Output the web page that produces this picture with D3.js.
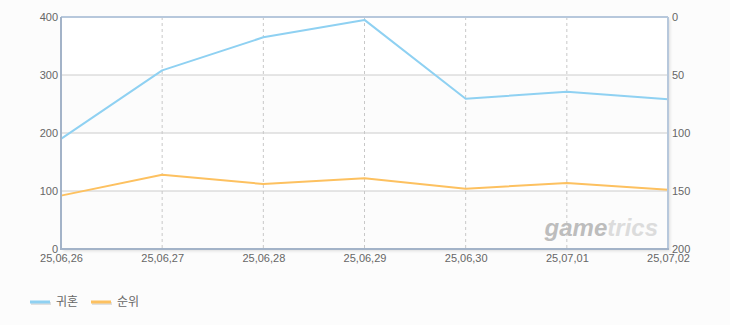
<!DOCTYPE html>
<html>
<head>
<meta charset="utf-8">
<script src="https://cdn.jsdelivr.net/npm/d3@7"></script>
<style>
  body { margin: 0; background: #fcfcfc; }
  text { font-family: "Liberation Sans", "Noto Sans CJK KR", sans-serif; }
</style>
</head>
<body>
<script>
var width = 730;
var height = 325;

// chart data
var dates = ["25,06,26", "25,06,27", "25,06,28", "25,06,29", "25,06,30", "25,07,01", "25,07,02"];
var gwihon = [190, 308, 365, 395, 259, 271, 258];
var rank = [154, 136, 144, 139, 148, 143, 149];
var leftTicks = [0, 100, 200, 300, 400];
var rightTicks = [0, 50, 100, 150, 200];
var seriesNames = ["귀혼", "순위"];
var seriesColors = ["#8fd1f2", "#fdc160"];

var margin = {left: 61, right: 62, top: 17, bottom: 76};
var plotW = width - margin.left - margin.right;
var plotH = height - margin.top - margin.bottom;

var svg = d3.select('body').append('svg').attr('width', width).attr('height', height);

var x = d3.scalePoint().domain(dates).range([0, plotW]);
var yL = d3.scaleLinear().domain([0, 400]).range([plotH, 0]);
var yR = d3.scaleLinear().domain([0, 200]).range([0, plotH]);

var defs = svg.append("defs");
var f = defs.append("filter").attr("id", "shadow").attr("x", "-5%").attr("y", "-5%").attr("width", "110%").attr("height", "110%");
f.append("feDropShadow").attr("dx", 2).attr("dy", 2).attr("stdDeviation", 1.5).attr("flood-color", "#000").attr("flood-opacity", 0.12);

var g = svg.append("g").attr("transform", "translate(" + margin.left + "," + margin.top + ")");

// plot background with shadow
g.append("rect").attr("width", plotW).attr("height", plotH).attr("fill", "#fff").attr("filter", "url(#shadow)");

// alternating bands
var bands = [[300, 200], [100, 0]];
g.selectAll("rect.band").data(bands).enter().append("rect")
  .attr("class", "band")
  .attr("x", 0).attr("width", plotW)
  .attr("y", function (d) { return yL(d[0]); })
  .attr("height", function (d) { return yL(d[1]) - yL(d[0]); })
  .attr("fill", "#fcfcfc");

// horizontal grid
g.selectAll("line.hgrid").data([100, 200, 300]).enter().append("line")
  .attr("x1", 0).attr("x2", plotW)
  .attr("y1", function (d) { return yL(d); }).attr("y2", function (d) { return yL(d); })
  .attr("stroke", "#cccccc").attr("stroke-width", 1);

// vertical dashed grid
g.selectAll("line.vgrid").data(dates.slice(1, -1)).enter().append("line")
  .attr("x1", function (d) { return x(d); }).attr("x2", function (d) { return x(d); })
  .attr("y1", 0).attr("y2", plotH)
  .attr("stroke", "#c8c8c8").attr("stroke-width", 1).attr("stroke-dasharray", "3,3");

// watermark
var wm = g.append("text")
  .attr("x", plotW - 10).attr("y", plotH - 13)
  .attr("text-anchor", "end")
  .attr("font-size", 24).attr("font-weight", "bold").attr("font-style", "italic")
  .style("font-family", "'Liberation Sans', Arial, sans-serif");
wm.append("tspan").attr("fill", "#bdbdbd").text("game");
wm.append("tspan").attr("fill", "#dcdcdc").text("trics");

// lines
var lineL = d3.line().x(function (d, i) { return x(dates[i]); }).y(function (d) { return yL(d); });
var lineR = d3.line().x(function (d, i) { return x(dates[i]); }).y(function (d) { return yR(d); });

g.append("path").datum(gwihon).attr("d", lineL)
  .attr("fill", "none").attr("stroke", seriesColors[0]).attr("stroke-width", 2).attr("stroke-linejoin", "round");
g.append("path").datum(rank).attr("d", lineR)
  .attr("fill", "none").attr("stroke", seriesColors[1]).attr("stroke-width", 2).attr("stroke-linejoin", "round");

// border
g.append("line").attr("x1", 0).attr("x2", plotW).attr("y1", 0).attr("y2", 0).attr("stroke", "#b7c8dc").attr("stroke-width", 2);
g.append("line").attr("x1", plotW).attr("x2", plotW).attr("y1", 0).attr("y2", plotH).attr("stroke", "#b7c8dc").attr("stroke-width", 2);
g.append("line").attr("x1", 0).attr("x2", 0).attr("y1", 0).attr("y2", plotH + 1).attr("stroke", "#a3b3c8").attr("stroke-width", 2);
g.append("line").attr("x1", -1).attr("x2", plotW + 1).attr("y1", plotH).attr("y2", plotH).attr("stroke", "#a3b3c8").attr("stroke-width", 2);

// axes
var axisL = d3.axisLeft(yL).tickValues(leftTicks).tickSize(0).tickPadding(3);
var axisR = d3.axisRight(yR).tickValues(rightTicks).tickSize(0).tickPadding(4);
var axisB = d3.axisBottom(x).tickSize(0).tickPadding(5);

function styleAxis(sel) {
  sel.select(".domain").remove();
  sel.selectAll("text").attr("fill", "#666").attr("font-size", 11)
    .style("font-family", "'Liberation Sans', Arial, sans-serif");
}
g.append("g").call(axisL).call(styleAxis);
g.append("g").attr("transform", "translate(" + plotW + ",0)").call(axisR).call(styleAxis);
g.append("g").attr("transform", "translate(0," + plotH + ")").call(axisB).call(styleAxis);

// legend
var legend = svg.append("g").attr("transform", "translate(30,302)");
var items = legend.selectAll("g").data(seriesNames).enter().append("g")
  .attr("transform", function (d, i) { return "translate(" + (i * 61) + ",0)"; });
items.append("line").attr("x1", 1).attr("x2", 21).attr("y1", 1.5).attr("y2", 1.5)
  .attr("stroke", "#e0e0e0").attr("stroke-width", 3);
items.append("line").attr("x1", 0).attr("x2", 20).attr("y1", 0).attr("y2", 0)
  .attr("stroke", function (d, i) { return seriesColors[i]; }).attr("stroke-width", 3);
items.append("text").attr("x", 26).attr("y", 4)
  .attr("fill", "#666").attr("font-size", 12)
  .style("font-family", "'Noto Sans CJK KR', sans-serif")
  .text(function (d) { return d; });
</script>
</body>
</html>
